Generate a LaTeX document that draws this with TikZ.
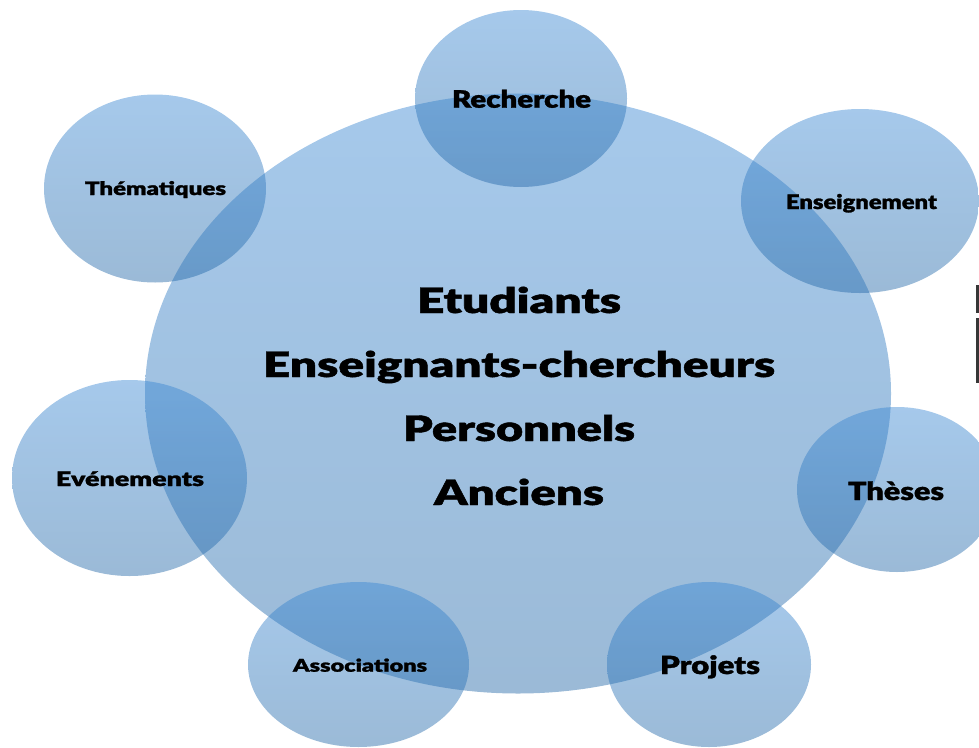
\documentclass[tikz,border=0pt]{standalone}
\usepackage{fontspec}
\setmainfont{Lato}[BoldFont={Lato Black}, BoldFeatures={FakeBold=1.2}]
\usetikzlibrary{shapes.geometric}
\definecolor{bTop}{RGB}{57,135,211}
\definecolor{bBot}{RGB}{33,102,166}
\definecolor{barc}{RGB}{55,55,55}
\tikzset{
  blob/.style={ellipse, inner sep=0pt, draw=none, top color=bTop, bottom color=bBot, fill opacity=0.45},
  lab/.style={inner sep=0pt, anchor=base, text=black, font=\bfseries},
}
% #1 target width, #2 font size, #3 text
\newcommand{\wtxt}[3]{\resizebox{#1}{\height}{\fontsize{#2}{#2}\selectfont #3}}
\begin{document}
\begin{tikzpicture}[x=1pt,y=-1pt]
\useasboundingbox (0,0) rectangle (979,747);
% central ellipse
\node[blob, minimum width=746pt, minimum height=600pt] (big) at (518,393.5) {};
% satellites
\node[blob, minimum width=212pt, minimum height=177pt] (rech) at (521,98.5) {};
\node[blob, minimum width=222pt, minimum height=188pt] (them) at (155,188.5) {};
\node[blob, minimum width=238pt, minimum height=184pt] (ens) at (860,201) {};
\node[blob, minimum width=235pt, minimum height=196pt] (evt) at (129.5,478) {};
\node[blob, minimum width=200pt, minimum height=165pt] (these) at (897,489.5) {};
\node[blob, minimum width=221pt, minimum height=165pt] (asso) at (358.5,664.5) {};
\node[blob, minimum width=204pt, minimum height=165pt] (proj) at (709,664.5) {};
% labels
\node[lab] (t1) at (519,313) {\wtxt{204pt}{35}{Etudiants}};
\node[lab] (t2) at (519,377) {\wtxt{512pt}{35}{Enseignants-chercheurs}};
\node[lab] (t3) at (519,441) {\wtxt{232pt}{35}{Personnels}};
\node[lab] (t4) at (519,505) {\wtxt{170pt}{35}{Anciens}};
\node[lab] (lrech) at (521.5,107.7) {\wtxt{139pt}{24}{Recherche}};
\node[lab] (lthem) at (155.5,195) {\wtxt{141pt}{18.5}{Thématiques}};
\node[lab] (lens) at (861.5,209) {\wtxt{151pt}{20}{Enseignement}};
\node[lab] (levt) at (130,486) {\wtxt{148pt}{20}{Evénements}};
\node[lab] (lthese) at (896,500) {\wtxt{96pt}{25}{Thèses}};
\node[lab] (lasso) at (360,671.7) {\wtxt{134pt}{17.5}{Associations}};
\node[lab] (lproj) at (710,674) {\wtxt{100pt}{25}{Projets}};
% cut-off marks at right edge
\fill[barc] (975.5,285) rectangle (979,313);
\fill[barc] (975.5,318) rectangle (979,383);
\end{tikzpicture}
\end{document}
